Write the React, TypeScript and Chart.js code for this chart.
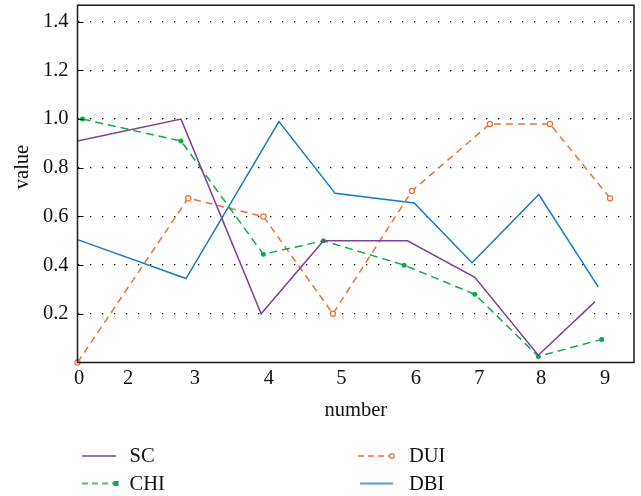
import React, { useEffect, useRef } from "react";
import { Chart, registerables } from "chart.js";

Chart.register(...registerables);

// x positions on the "number" axis (axis spans 0..10), y values
const scX = [0, 1.86, 3.3, 4.42, 5.93, 7.14, 8.28, 9.3];
const scY = [0.91, 1.0, 0.2, 0.5, 0.5, 0.35, 0.03, 0.25];
const chiX = [0.09, 1.86, 3.34, 4.42, 5.87, 7.14, 8.28, 9.42];
const chiY = [1.0, 0.91, 0.445, 0.5, 0.4, 0.28, 0.025, 0.095];
const duiX = [0, 1.99, 3.34, 4.59, 6.01, 7.41, 8.49, 9.57];
const duiY = [0, 0.675, 0.6, 0.2, 0.705, 0.98, 0.98, 0.675];
const dbiX = [0, 1.95, 3.62, 4.63, 6.05, 7.09, 8.29, 9.36];
const dbiY = [0.505, 0.345, 0.99, 0.695, 0.655, 0.41, 0.69, 0.31];

const xTickValues = [0.03, 0.91, 2.11, 3.44, 4.74, 6.08, 7.22, 8.33, 9.48];
const xTickLabels = ["0", "2", "3", "4", "5", "6", "7", "8", "9"];
const yTickValues = [0.2, 0.4, 0.6, 0.8, 1.0, 1.2, 1.4];

const FONT = "'Liberation Serif', 'Times New Roman', serif";
const FS = 20.5;
const C_SC = "#7e3f9d";
const C_CHI = "#10a84d";
const C_DUI = "#ef6f33";
const C_DBI = "#1879c6";

const pts = (xs: number[], ys: number[]) => xs.map((x, i) => ({ x, y: ys[i] }));

const decor = {
  id: "decor",
  afterDraw(chart: any) {
    const { ctx, chartArea: a, scales } = chart;
    ctx.save();
    // frame
    ctx.strokeStyle = "#1a1a1a";
    ctx.lineWidth = 1.5;
    ctx.setLineDash([]);
    ctx.strokeRect(a.left, a.top, a.right - a.left, a.bottom - a.top);
    // inner y ticks
    ctx.lineWidth = 1;
    ctx.strokeStyle = "#000";
    yTickValues.forEach((v) => {
      const y = Math.round(scales.y.getPixelForValue(v)) + 0.5;
      ctx.beginPath();
      ctx.moveTo(a.left, y);
      ctx.lineTo(a.left + 6, y);
      ctx.stroke();
    });
    // axis titles
    ctx.fillStyle = "#111";
    ctx.font = `${FS}px ${FONT}`;
    ctx.textAlign = "center";
    ctx.textBaseline = "middle";
    ctx.fillText("number", (a.left + a.right) / 2, 411);
    ctx.save();
    ctx.translate(23, 167);
    ctx.rotate(-Math.PI / 2);
    ctx.fillText("value", 0, 0);
    ctx.restore();
    // legend
    const items = [
      { label: "SC", color: C_SC, dash: [], marker: "", x1: 82, x2: 116, tx: 129.5, y: 456, base: 461.7 },
      { label: "CHI", color: C_CHI, dash: [6, 4], marker: "rect", x1: 82, x2: 116, tx: 129.5, y: 483.5, base: 489.5 },
      { label: "DUI", color: C_DUI, dash: [6, 4], marker: "circle", x1: 358, x2: 393, tx: 409, y: 456, base: 461.7 },
      { label: "DBI", color: C_DBI, dash: [], marker: "", x1: 360, x2: 393, tx: 409, y: 483.5, base: 489.5 },
    ];
    items.forEach((it) => {
      ctx.strokeStyle = it.color;
      ctx.globalAlpha = 0.75;
      ctx.lineWidth = 2;
      ctx.setLineDash(it.dash);
      ctx.beginPath();
      ctx.moveTo(it.x1, it.y);
      ctx.lineTo(it.x2, it.y);
      ctx.stroke();
      ctx.setLineDash([]);
      ctx.globalAlpha = 1;
      if (it.marker === "rect") {
        ctx.fillStyle = it.color;
        ctx.fillRect(it.x2 - 2.5, it.y - 2.5, 5, 5);
      } else if (it.marker === "circle") {
        ctx.fillStyle = "#fff";
        ctx.lineWidth = 1.2;
        ctx.beginPath();
        ctx.arc(it.x2 - 1, it.y, 2.3, 0, Math.PI * 2);
        ctx.fill();
        ctx.stroke();
      }
      ctx.fillStyle = "#111";
      ctx.textAlign = "left";
      ctx.textBaseline = "alphabetic";
      ctx.font = `${FS}px ${FONT}`;
      ctx.fillText(it.label, it.tx, it.base);
    });
    ctx.restore();
  },
};

export default function App() {
  const ref = useRef<HTMLCanvasElement>(null);
  useEffect(() => {
    const chart = new Chart(ref.current as HTMLCanvasElement, {
      type: "line",
      data: {
        datasets: [
          {
            label: "SC",
            data: pts(scX, scY),
            borderColor: C_SC,
            borderWidth: 1.5,
            pointRadius: 0,
            clip: false,
          },
          {
            label: "CHI",
            data: pts(chiX, chiY),
            borderColor: C_CHI,
            backgroundColor: C_CHI,
            borderWidth: 1.5,
            borderDash: [8, 5],
            pointRadius: 2.5,
            pointBorderWidth: 0,
            pointBackgroundColor: C_CHI,
            clip: false,
          },
          {
            label: "DUI",
            data: pts(duiX, duiY),
            borderColor: C_DUI,
            borderWidth: 1.5,
            borderDash: [7, 5],
            pointRadius: 2.6,
            pointBorderWidth: 1.2,
            pointBorderColor: C_DUI,
            pointBackgroundColor: "#fff",
            clip: false,
          },
          {
            label: "DBI",
            data: pts(dbiX, dbiY),
            borderColor: C_DBI,
            borderWidth: 1.5,
            pointRadius: 0,
            clip: false,
          },
        ],
      },
      options: {
        animation: false,
        responsive: false,
        devicePixelRatio: 1,
        layout: { padding: { left: 0, top: 4, right: 7, bottom: 0 } },
        plugins: { legend: { display: false }, tooltip: { enabled: false } },
        scales: {
          x: {
            type: "linear",
            min: 0,
            max: 10,
            afterBuildTicks: (s: any) => {
              s.ticks = xTickValues.map((v) => ({ value: v }));
            },
            afterFit: (s: any) => {
              s.height = 133.5;
              s.paddingLeft = 0;
              s.paddingRight = 0;
            },
            ticks: {
              autoSkip: false,
              maxRotation: 0,
              padding: 4,
              color: "#111",
              font: { family: FONT, size: FS },
              callback: (_v: any, i: number) => xTickLabels[i],
            },
            grid: { display: false, drawTicks: false },
            border: { display: false },
          },
          y: {
            type: "linear",
            min: 0,
            max: 1.468,
            afterBuildTicks: (s: any) => {
              s.ticks = yTickValues.map((v) => ({ value: v }));
            },
            afterFit: (s: any) => {
              s.width = 77.5;
              s.paddingTop = 0;
              s.paddingBottom = 0;
            },
            ticks: {
              padding: 9,
              color: "#111",
              font: { family: FONT, size: FS },
              callback: (v: any) => Number(v).toFixed(1),
            },
            grid: { display: true, drawTicks: false, color: "#000", lineWidth: 1.3 },
            border: { display: false, dash: [1.3, 10.7] },
          },
        },
      },
      plugins: [decor],
    });
    return () => chart.destroy();
  }, []);
  return (
    <div style={{ position: "fixed", left: 0, top: 0, width: 641, height: 496, background: "#fff" }}>
      <canvas ref={ref} width={641} height={496} style={{ width: 641, height: 496 }} />
    </div>
  );
}
